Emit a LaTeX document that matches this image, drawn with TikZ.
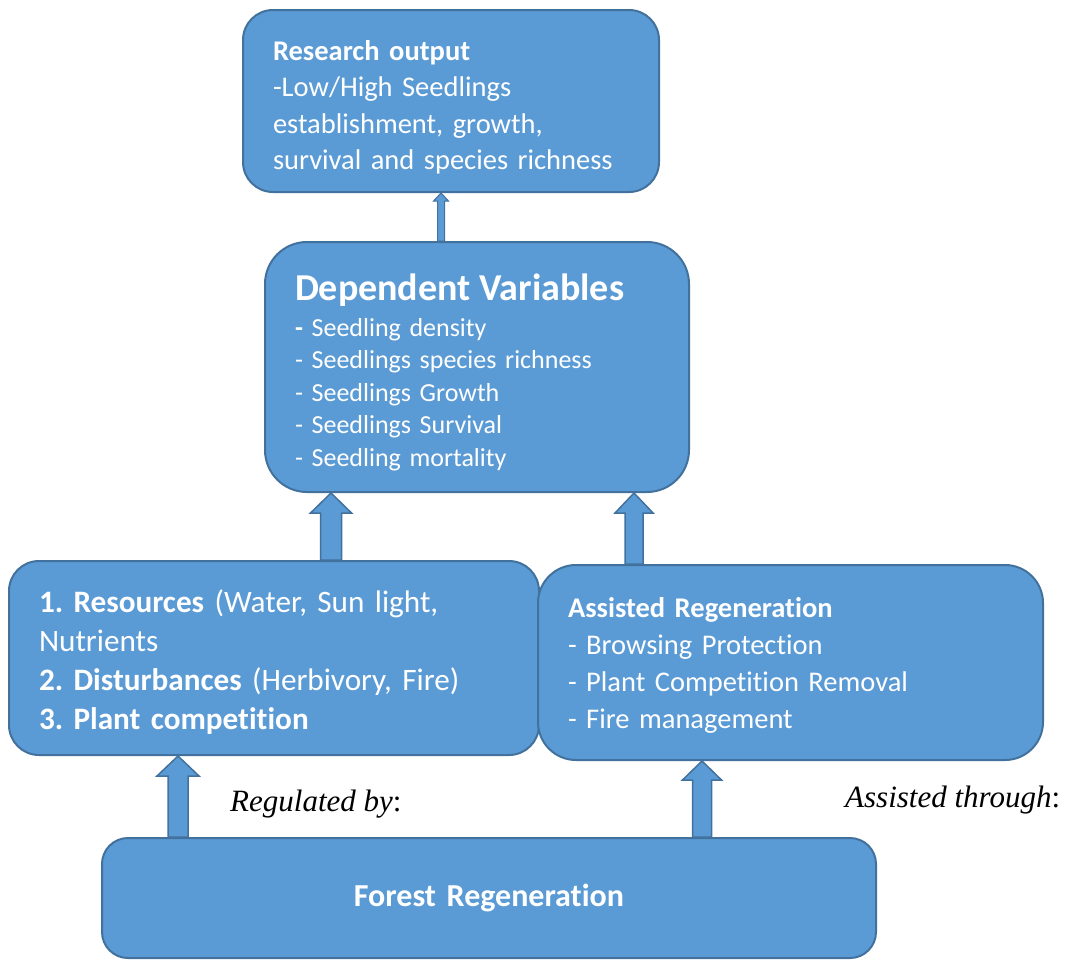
\documentclass[tikz,border=0pt]{standalone}
\usepackage{fontspec}
\setmainfont{Carlito}[Ligatures=NoCommon]
\newfontfamily\labelfont{Liberation Serif}
\usetikzlibrary{calc}
\frenchspacing

\definecolor{boxfill}{HTML}{5B9BD5}
\definecolor{boxline}{HTML}{41719C}

% taller first line, pushes the text block down
\newcommand\lift[1]{\rule{0pt}{\dimexpr\fontcharht\font`d+#1\relax}}

\tikzset{
  box/.style={draw=boxline, fill=boxfill, line width=2pt, rounded corners=30pt,
    text=white, inner xsep=30pt, inner ysep=0pt, align=left},
  blockarr/.style={draw=boxline, fill=boxfill, line width=1.5pt, line join=miter},
  lbl/.style={font=\labelfont\fontsize{31}{34}\selectfont\itshape, anchor=base west, inner sep=0pt}
}

% block arrow pointing up: [style]{from}{to}{half shaft}{half head}{head length}
\newcommand\blockup[6][]{%
  \draw[blockarr,#1] let \p1=(#2), \p2=(#3) in
    (\x1-#4,\y1) -- (\x1-#4,\y2-#6) -- (\x1-#5,\y2-#6) -- (\x1,\y2)
    -- (\x1+#5,\y2-#6) -- (\x1+#4,\y2-#6) -- (\x1+#4,\y1) -- cycle;}

\begin{document}
\begin{tikzpicture}[x=1pt,y=-1pt]
    \useasboundingbox (0,0) rectangle (1073,961);

    % boxes
    \node[box, text width=356pt, minimum height=182pt, font=\fontsize{28.5}{36.5}\selectfont]
      (out) at (451,101)
      {\textbf{\lift{13pt}Research output}\\-Low/High Seedlings\\establishment, growth,\\survival and species richness};
    \node[box, rounded corners=42pt, text width=364pt, minimum height=250pt, font=\fontsize{26}{32.5}\selectfont]
      (dep) at (477,367)
      {{\fontsize{38}{38}\selectfont\bfseries\lift{10pt}Dependent Variables}\\[3.5pt]
       \textbf{-} Seedling density\\- Seedlings species richness\\- Seedlings Growth\\
       - Seedlings Survival\\- Seedling mortality};
    \node[box, text width=470pt, minimum height=194pt, font=\fontsize{31.2}{39}\selectfont]
      (res) at (274,658)
      {\textbf{\lift{9pt}1. Resources} (Water, Sun light,\\Nutrients\\
       \textbf{2. Disturbances} (Herbivory, Fire)\\\textbf{3. Plant competition}};
    \node[box, rounded corners=38pt, text width=445pt, minimum height=195pt, font=\fontsize{28.5}{37}\selectfont]
      (asr) at (790.5,662.5)
      {\textbf{\lift{6pt}Assisted Regeneration}\\- Browsing Protection\\
       - Plant Competition Removal\\- Fire management};
    \node[box, rounded corners=26pt, text width=714pt, minimum height=120pt, align=center,
      font=\fontsize{32}{36}\selectfont\bfseries]
      (frg) at (489,898) {\raisebox{4pt}{Forest Regeneration}};

    % labels
    \node[lbl] (reg) at (230,811) {Regulated by\/{\upshape:}};
    \node[lbl] (ast) at (845,807) {Assisted through\/{\upshape:}};

    % arrows
    \coordinate (c0) at (441,0);
    \coordinate (c1) at (331,0);
    \coordinate (c2) at (634,0);
    \coordinate (c3) at (178,0);
    \coordinate (c4) at (702,0);
    \blockup[line width=1pt]{dep.north -| c0}{out.south -| c0}{3.5pt}{7.5pt}{8pt}
    \blockup{res.north -| c1}{dep.south -| c1}{10.5pt}{20.5pt}{20pt}
    \blockup{asr.north -| c2}{dep.south -| c2}{9pt}{19pt}{20pt}
    \blockup{frg.north -| c3}{res.south -| c3}{10pt}{21pt}{20pt}
    \blockup{frg.north -| c4}{asr.south -| c4}{9.5pt}{19.5pt}{19pt}
\end{tikzpicture}
\end{document}
